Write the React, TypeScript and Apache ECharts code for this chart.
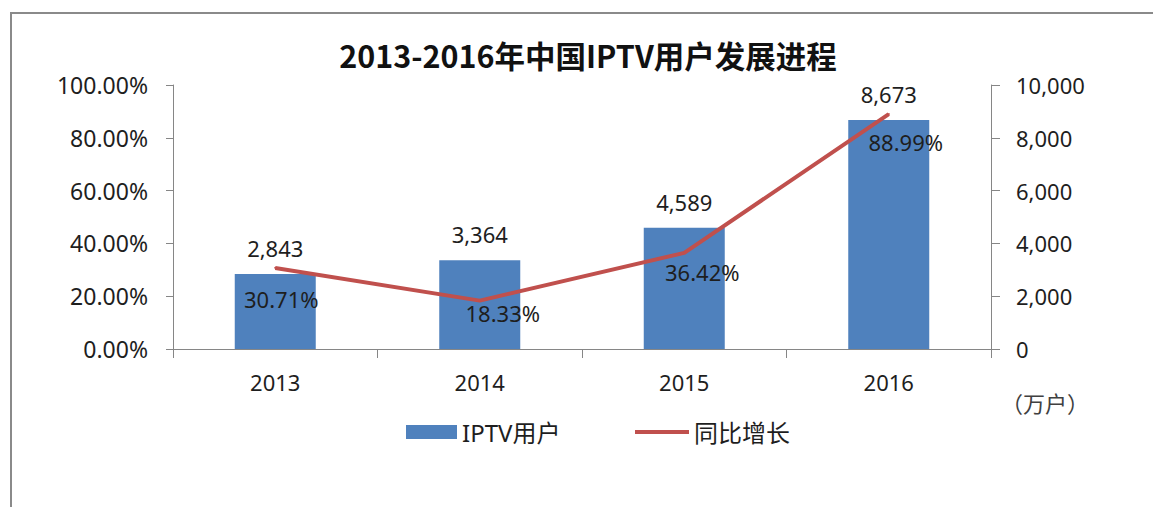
import React, { useEffect, useRef } from "react";
import * as echarts from "echarts";

const TITLE = "2013-2016年中国IPTV用户发展进程";
const UNIT = "（万户）";
const categories = ["2013", "2014", "2015", "2016"];
const users = [2843, 3364, 4589, 8673];
const growth = [30.71, 18.33, 36.42, 88.99];
const growthLabelOffsets = [
  [6, 31],
  [23, 12],
  [18, 19],
  [17, 28],
];
const leftTicks = { min: 0, max: 100, interval: 20 };
const rightTicks = { min: 0, max: 10000, interval: 2000 };

const FONT = "'Noto Sans', 'Noto Sans CJK SC', sans-serif";
const CJK = "'Noto Sans CJK SC', 'Noto Sans', sans-serif";
const AXIS = "#868686";
const TXT = "#1e1e1e";

const fmtThousands = (v: number) =>
  String(Math.round(v)).replace(/\B(?=(\d{3})+(?!\d))/g, ",");

export default function App() {
  const ref = useRef<HTMLDivElement>(null);
  useEffect(() => {
    document.body.style.margin = "0";
    if (!ref.current) return;
    const chart = echarts.init(ref.current, undefined, { renderer: "svg" });
    chart.setOption({
      animation: false,
      backgroundColor: "#ffffff",
      grid: { left: 173, right: 162, top: 85, bottom: 158, containLabel: false },
      graphic: [
        {
          type: "rect",
          shape: { x: 11, y: 13, width: 1300, height: 700 },
          style: { fill: "none", stroke: "#8a8a8a", lineWidth: 2 },
          silent: true,
        },
        {
          type: "text",
          x: 588,
          y: 55,
          style: {
            text: TITLE,
            align: "center",
            verticalAlign: "middle",
            fontSize: 30.5,
            fontWeight: "bold",
            fontFamily: CJK,
            fill: "#111111",
          },
        },
        {
          type: "text",
          x: 1001,
          y: 402,
          style: {
            text: UNIT,
            align: "left",
            verticalAlign: "middle",
            fontSize: 22,
            fontFamily: CJK,
            fill: "#404040",
          },
        },
      ],
      legend: [
        {
          left: 401,
          top: 415,
          itemWidth: 51,
          itemHeight: 14,
          itemGap: 0,
          data: [{ name: "IPTV用户", icon: "rect" }],
          textStyle: { fontSize: 24, fontFamily: FONT, color: TXT },
        },
        {
          left: 630,
          top: 415,
          itemWidth: 54,
          itemHeight: 14,
          itemGap: 0,
          data: [{ name: "同比增长", icon: "path://M0 0H54V4H0Z" }],
          textStyle: { fontSize: 24, fontFamily: FONT, color: TXT },
        },
      ],
      xAxis: {
        type: "category",
        data: categories,
        boundaryGap: true,
        axisLine: { lineStyle: { color: AXIS, width: 1 } },
        axisTick: { show: true, length: 9, alignWithLabel: false, lineStyle: { color: AXIS } },
        axisLabel: { margin: 22, fontSize: 22, fontFamily: FONT, color: TXT },
        splitLine: { show: false },
      },
      yAxis: [
        {
          type: "value",
          position: "left",
          min: leftTicks.min,
          max: leftTicks.max,
          interval: leftTicks.interval,
          axisLine: { show: true, lineStyle: { color: AXIS } },
          axisTick: { show: true, length: 7, lineStyle: { color: AXIS } },
          axisLabel: {
            margin: 25,
            fontSize: 23,
            fontFamily: FONT,
            color: TXT,
            formatter: (v: number) => v.toFixed(2) + "%",
          },
          splitLine: { show: false },
        },
        {
          type: "value",
          position: "right",
          min: rightTicks.min,
          max: rightTicks.max,
          interval: rightTicks.interval,
          axisLine: { show: true, lineStyle: { color: AXIS } },
          axisTick: { show: true, length: 9, lineStyle: { color: AXIS } },
          axisLabel: {
            margin: 25,
            fontSize: 22,
            fontFamily: FONT,
            color: TXT,
            formatter: (v: number) => fmtThousands(v),
          },
          splitLine: { show: false },
        },
      ],
      series: [
        {
          name: "IPTV用户",
          type: "bar",
          yAxisIndex: 1,
          data: users,
          barWidth: 81,
          itemStyle: { color: "#4F81BD" },
          label: {
            show: true,
            position: "top",
            distance: 15,
            fontSize: 22,
            fontFamily: FONT,
            color: TXT,
            formatter: (p: any) => fmtThousands(p.value),
          },
        },
        {
          name: "同比增长",
          type: "line",
          yAxisIndex: 0,
          data: growth.map((v, i) => ({
            value: v,
            label: { offset: growthLabelOffsets[i] },
          })),
          symbol: "circle",
          symbolSize: 2,
          showSymbol: true,
          lineStyle: { color: "#C0504D", width: 4 },
          itemStyle: { color: "#C0504D" },
          label: {
            show: true,
            position: "inside",
            fontSize: 22,
            fontFamily: FONT,
            color: TXT,
            formatter: (p: any) => Number(p.value).toFixed(2) + "%",
          },
          z: 3,
        },
      ],
    });
    return () => chart.dispose();
  }, []);
  return <div ref={ref} style={{ width: 1153, height: 507 }} />;
}
